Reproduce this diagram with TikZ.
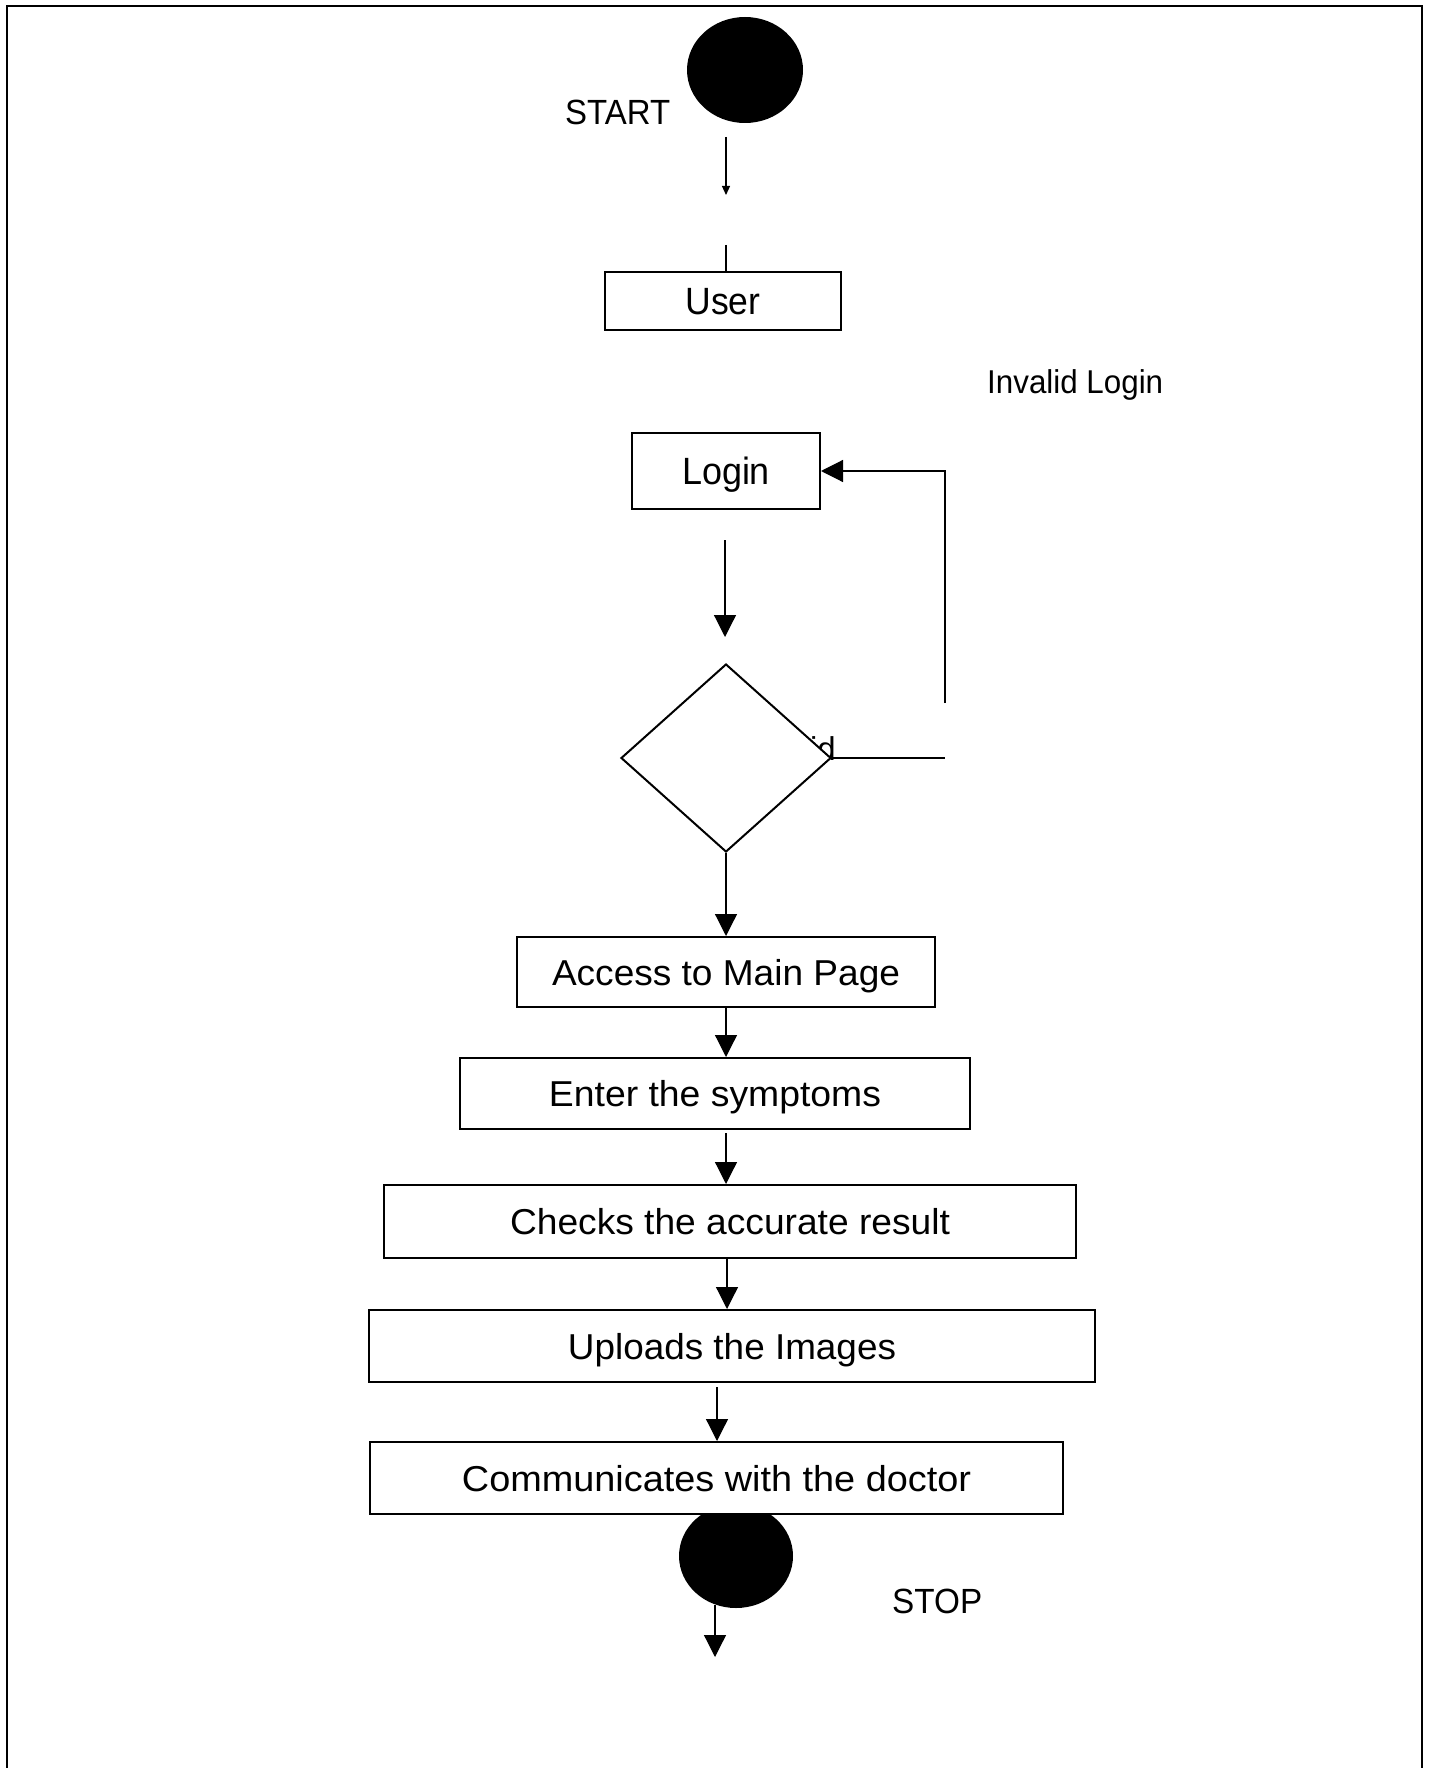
\documentclass[tikz,border=0pt]{standalone}
\usepackage{fontspec}
\setmainfont{Liberation Sans}
\usetikzlibrary{shapes.geometric,arrows.meta}
% text of a given size squeezed or stretched to a given width
\newcommand\fittext[3]{\resizebox{#2pt}{\height}{\fontsize{#1pt}{#1pt}\selectfont #3}}
\begin{document}
\begin{tikzpicture}[x=1pt,y=-1pt,
  box/.style={draw, line width=2pt, fill=white, inner sep=0pt, text depth=0pt, text height=26pt},
  conn/.style={line width=1.2pt},
  bigarrow/.style={conn, -{Triangle[width=22pt,length=22pt]}},
  smallarrow/.style={conn, -{Triangle[width=8pt,length=9pt]}},
  endpoint/.style={ellipse, fill=black, inner sep=0pt},
  label/.style={inner sep=0pt}]
\useasboundingbox (0,0) rectangle (1431,1768);

% page frame (open at the bottom)
\draw[line width=2.5pt] (7,1768) -- (7,6) -- (1422,6) -- (1422,1768);

% start and end points
\node[endpoint, minimum width=116pt, minimum height=106pt] (start) at (745,70) {};
\node[endpoint, minimum width=114pt, minimum height=104pt] (stop) at (736,1556) {};
\node[label, anchor=base west] (starttxt) at (565,125) {\fittext{35}{105}{START}};
\node[label, anchor=base west] (stoptxt) at (892,1613) {\fittext{35}{90}{STOP}};

% label of the failing branch, mostly hidden by the decision
\node[label, anchor=base east, font=\fontsize{33pt}{33pt}\selectfont] (badtxt) at (836,760) {Invalid};
\node[label, anchor=base west] (invtxt) at (987,393) {\fittext{33}{176}{Invalid Login}};

% activity boxes
\node[box, minimum width=236pt, minimum height=58pt, text height=27pt] (user) at (723,301) {\fittext{38}{75}{User}};
\node[box, minimum width=188pt, minimum height=76pt, text height=27pt] (login) at (726,471) {\fittext{38}{88}{Login}};
\node[diamond, draw, line width=2pt, fill=white, inner sep=0pt, shape aspect=1.117,
      minimum width=210pt, minimum height=188pt] (check) at (726,758) {};
\node[box, minimum width=418pt, minimum height=70pt] (access) at (726,972) {\fittext{36}{348}{Access to Main Page}};
\node[box, minimum width=510pt, minimum height=71pt] (enter) at (715,1093.5) {\fittext{36}{332}{Enter the symptoms}};
\node[box, minimum width=692pt, minimum height=73pt] (checks) at (730,1221.5) {\fittext{36}{440}{Checks the accurate result}};
\node[box, minimum width=726pt, minimum height=72pt] (uploads) at (732,1346) {\fittext{36}{328}{Uploads the Images}};
\node[box, minimum width=693pt, minimum height=72pt] (comm) at (716.5,1478) {\fittext{36}{509}{Communicates with the doctor}};

% connector ends that float free of the nodes
\coordinate (s1) at (726,137);
\coordinate (s2) at (726,195);
\coordinate (u0) at (726,245);
\coordinate (l1) at (725,540);
\coordinate (l2) at (725,637);
\coordinate (r1) at (945,758);
\coordinate (r2) at (945,703);
\coordinate (e1) at (726,1133);
\coordinate (p1) at (717,1387);
\coordinate (x1) at (715,1605);
\coordinate (x2) at (715,1657);

% connectors
\draw[smallarrow] (s1) -- (s2);
\draw[conn] (u0) -- (u0 |- user.north);
\draw[bigarrow] (l1) -- (l2);
\draw[conn] (check.east) -- (r1);
\draw[bigarrow] (r2) |- (login.east);
\draw[bigarrow] (check.south) -- (check.south |- access.north);
\draw[bigarrow] (access.south) -- (access.south |- enter.north);
\draw[bigarrow] (e1) -- (e1 |- checks.north);
\draw[bigarrow] (checks.south -| 727,0) -- (727,0 |- uploads.north);
\draw[bigarrow] (p1) -- (p1 |- comm.north);
\draw[bigarrow] (x1) -- (x2);
\end{tikzpicture}
\end{document}
